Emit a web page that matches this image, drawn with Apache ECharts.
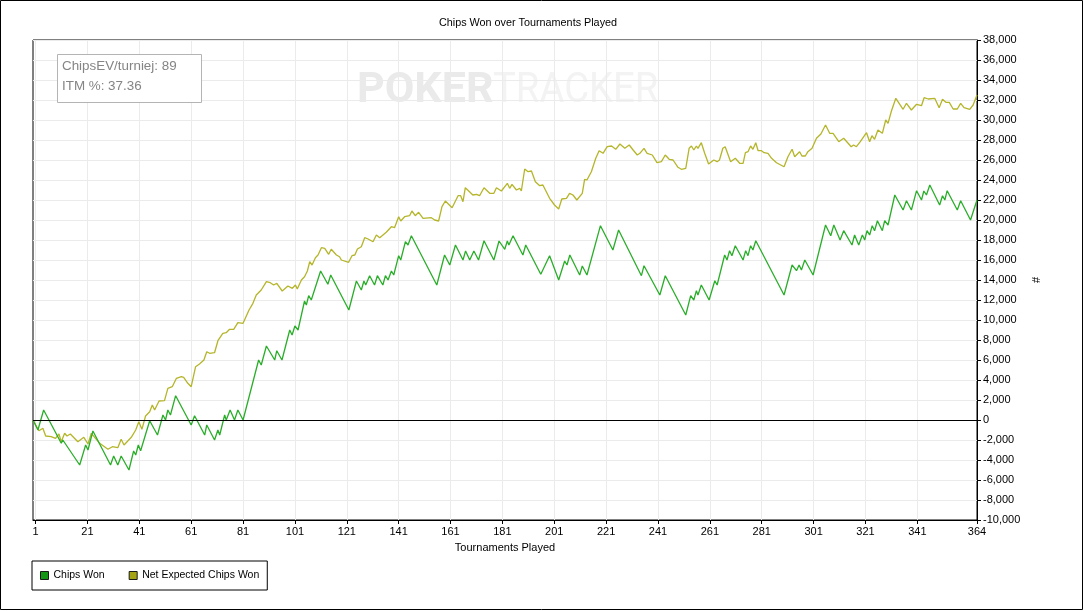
<!DOCTYPE html>
<html>
<head>
<meta charset="utf-8">
<script src="https://cdn.jsdelivr.net/npm/echarts@6/dist/echarts.min.js"></script>
<style>
html,body{margin:0;padding:0;background:#fff;}
#chart{width:1084px;height:611px;}
</style>
</head>
<body>
<div id="chart"></div>
<script>
// Tick labels
const xTicks = [1,21,41,61,81,101,121,141,161,181,201,221,241,261,281,301,321,341,364];
const seriesNames = ['Chips Won', 'Net Expected Chips Won'];
const infoLines = ['ChipsEV/turniej: 89', 'ITM %: 37.36'];

// Chips Won: tournament number of each vertex and cumulative chips
const chipsT = [0,1.9,4.1,10.9,11.5,18,20.3,21.2,23.1,29.9,31.1,32.7,34,37,38.8,39.6,40.6,41.5,45,48,50.1,51.1,52,53,55,61,62.3,66.2,67,70,71.3,72,73.9,74.5,76,77.7,79,81,87,88,90,93.2,94,96,99,99.9,101,102.2,104.7,105.4,106.3,107.3,110.9,113.7,114.8,121.8,124.7,126.6,127.6,128.3,129.8,131.7,132.8,134.9,135.9,136.9,138.2,139.1,141,141.8,143.6,144.6,145.9,155.7,158.7,160.7,162.9,165.8,166.8,168.4,170,171.8,173.9,177.7,179.7,181.9,182.9,183.5,185.1,188.9,190,195.8,199.2,202.7,205,205.9,207,210.8,211.8,213.6,218.8,223.6,225.8,234.6,235.6,241.7,243.8,251.7,253.6,254.8,255.8,256.4,257.7,260.7,262.9,263.8,266.7,267.6,268.6,269.5,270.8,273.8,274.8,275.7,276.7,277.6,278.7,289.6,292.7,294.4,295.4,296.3,297.6,300.8,305.6,307.6,308.8,311.2,312.6,315.8,316.8,318.4,319.8,320.7,321.6,322.6,323.6,324.5,325.6,327.5,328.4,329.7,332.3,335.5,336.8,338.7,340.7,342.6,343.5,344.5,345.8,349.6,350.7,351.6,352.5,356.4,357.7,361.5,364];
const chipsV = [0,-1000,1000,-2330,-2000,-4500,-2500,-3000,-1100,-4500,-3600,-4500,-3600,-5000,-3100,-3500,-2500,-3070,-70,-1500,500,0,1000,500,2430,-500,430,-1500,-500,-2000,-1000,-1500,500,0,1000,0,1000,0,6000,5500,7400,6000,6930,6000,9000,8500,9400,9000,11900,11500,12430,12000,14900,13570,14500,11000,13900,13000,13900,13500,14430,13500,14430,13500,14430,14000,14900,14500,16430,16000,17830,17500,18430,13500,16500,15500,17500,16000,16900,16000,16900,16000,17930,16000,17900,17070,17900,17500,18430,16500,17500,14570,16430,14000,15900,15500,16500,14500,15400,14500,19430,17000,19000,14430,15430,12500,14430,10500,12430,12000,12930,12500,13500,12000,13930,13500,16500,16000,16930,16430,17430,16000,16930,16430,17430,17000,17930,12500,15500,14930,15500,15000,16000,14500,19500,18430,19500,18000,18930,17500,18500,17500,18500,18000,18930,18500,19430,18930,19930,18930,19930,19500,22500,21000,21930,21000,22930,22000,22900,22500,23500,21500,22430,22000,22930,21000,21930,20000,22000];

// Net Expected Chips Won
const evT = [0,2.3,3.8,4.9,7,8.7,10,10.9,12.2,13.1,14.4,17.3,19.6,21.2,22.5,25.7,28.9,30.6,32.7,34,35.1,37.9,39.6,40.8,42,43.4,45,46,46.9,48.6,50.7,52,53.7,55.3,57.2,58.1,59.7,61,62.7,64.2,65.9,67,68.1,70,71.3,73.2,74.5,75.8,77.4,79,81,83.3,84.8,86.1,88,90,91.5,92.8,94,96.1,98.3,100,101.2,101.9,103.5,104.7,105.8,106.7,107.6,108.9,109.9,111.2,112.5,114,115,117,118.2,118.9,121.7,123,124.1,125.1,126.6,127.9,129.2,131.1,132.4,133.7,136.2,138.2,139.4,141,141.8,143.3,145.2,146.1,147.4,148.7,150.4,153.6,154.9,156.4,157.7,159,161.6,163.9,164.9,165.8,166.7,169.6,171,172.2,173.9,176.1,177.7,178.7,180.6,182.9,183.8,184.7,186.4,187.7,188.3,189.6,190.9,192.2,193.7,195.4,196.6,199.2,201.1,202.7,203.9,205.7,206.9,208.2,209.7,211.8,212.7,213.6,215.3,217,218.3,219.8,221.4,223.1,224.7,226.3,228.2,229.9,231.4,233,234,234.6,235.6,236.8,238.8,240.6,242.3,243.8,245.3,246.8,248.7,250,251.7,253,253.9,254.8,255.8,256.4,257.7,259,260.5,262.5,263.8,264.7,266,266.9,269,270.8,272.5,273.8,274.7,275.7,276.7,277.6,278.7,279.6,280.9,281.9,283.4,284.8,286.7,289.6,291.1,292.7,293.7,295.6,296.5,297.8,298.8,300.4,302.1,303.8,305.6,307.2,308.5,310.7,312.6,315.5,316.4,317.5,319,321.4,322.6,323.5,324.5,325.8,327.5,328.8,329.7,331,332.7,335.5,336.8,338.7,340.7,342.6,343.6,345.2,347.7,349.4,350.7,352,353.3,354.8,356.4,357.7,359,361.2,362.5,364];
const evV = [0,-1070,-830,-1600,-1670,-1830,-1400,-2170,-1330,-1600,-1400,-2170,-1730,-2400,-1330,-2330,-2930,-2670,-2770,-1930,-2500,-1730,-1000,-170,-930,400,830,1500,1000,1900,1930,3170,3330,4170,4330,4270,3670,3330,5330,5600,6000,6830,6670,6730,7930,8670,8730,9070,9070,9730,9670,11000,11670,12500,13000,13830,13730,13500,13670,12900,13400,13170,13500,13100,14000,14330,14900,15830,15500,16230,16500,17230,17170,16570,17070,16500,16330,16000,15770,16430,16500,17100,17330,18230,18100,17830,18500,18230,18770,19330,19230,20330,19900,20330,20430,20900,20430,20770,20170,20230,20000,19900,21330,21900,21230,22430,22430,21830,23230,22500,22570,22430,23230,22670,22670,23230,22900,23670,23170,23570,23000,23170,22900,25100,24830,24900,23830,23430,23500,22170,21500,21100,22100,22170,22670,22500,22000,22670,24070,24000,24830,26170,26930,26670,27330,27400,27070,27600,27170,27500,27000,26500,26670,26600,27170,26670,26500,25730,25830,26500,26070,26000,25270,25070,25170,27170,27400,27000,27400,27170,27730,26670,25600,26000,25830,26000,27170,27330,25830,26170,25670,25670,26730,26830,27400,27070,27730,26930,26930,26730,26670,26170,25730,25330,26330,27070,26330,26830,26400,26400,26830,27170,28170,28600,29500,28670,28670,27830,28170,27330,27500,27330,27830,28730,27830,28430,28070,29000,28670,30000,29670,30900,32170,31070,31670,31000,31570,31430,32230,32100,32170,31230,32070,31770,31770,31100,31100,31670,31230,31070,31500,32500];

const chipsData = chipsT.map((t, i) => [t, chipsV[i]]);
const evData = evT.map((t, i) => [t, evV[i]]);

const FONT = 'Liberation Sans, Arial, sans-serif';
const chart = echarts.init(document.getElementById('chart'), null, {renderer: 'canvas'});
chart.setOption({
  animation: false,
  backgroundColor: '#ffffff',
  textStyle: {fontFamily: FONT},
  title: {
    text: 'Chips Won over Tournaments Played',
    left: 434, top: 13,
    textStyle: {fontSize: 10.8, fontWeight: 'normal', color: '#000', fontFamily: FONT}
  },
  grid: {
    left: 33, top: 40, right: 107, bottom: 91,
    show: true, borderColor: '#000', borderWidth: 1, backgroundColor: 'transparent'
  },
  legend: {
    left: 32, top: 561,
    orient: 'horizontal',
    padding: [9, 8, 9, 8],
    itemGap: 24,
    itemWidth: 8, itemHeight: 8,
    borderColor: '#000', borderWidth: 1,
    backgroundColor: '#fff',
    textStyle: {fontSize: 10.5, color: '#000', fontFamily: FONT},
    data: [
      {name: seriesNames[0], icon: 'rect', itemStyle: {color: '#139613', borderColor: '#1a1a1a', borderWidth: 1}},
      {name: seriesNames[1], icon: 'rect', itemStyle: {color: '#a3a314', borderColor: '#1a1a1a', borderWidth: 1}}
    ]
  },
  xAxis: {
    type: 'value',
    min: 0, max: 364,
    name: 'Tournaments Played',
    nameLocation: 'middle',
    nameGap: 22,
    nameTextStyle: {fontSize: 11, color: '#000', fontFamily: FONT},
    axisLine: {show: true, onZero: false, lineStyle: {color: '#000', width: 1}},
    axisTick: {show: true, length: 4, lineStyle: {color: '#000'}, customValues: xTicks},
    axisLabel: {customValues: xTicks, fontSize: 11, color: '#000', margin: 6, fontFamily: FONT},
    splitLine: {show: true, lineStyle: {color: '#ebebeb', width: 1}}
  },
  yAxis: {
    type: 'value',
    position: 'right',
    min: -10000, max: 38000, interval: 2000,
    name: '#',
    nameLocation: 'middle',
    nameGap: 53,
    nameRotate: 90,
    nameTextStyle: {fontSize: 11, color: '#000', fontFamily: FONT},
    axisLine: {show: true, onZero: false, lineStyle: {color: '#000', width: 1}},
    axisTick: {show: true, length: 4, lineStyle: {color: '#000'}},
    axisLabel: {
      fontSize: 11, color: '#000', margin: 6, fontFamily: FONT,
      formatter: v => v.toLocaleString('en-US')
    },
    splitLine: {show: true, lineStyle: {color: '#ebebeb', width: 1}}
  },
  graphic: [
    {type: 'rect', silent: true, z: 100,
     shape: {x: 0.5, y: 0.5, width: 1082, height: 609},
     style: {fill: 'none', stroke: '#000', lineWidth: 1}},
    {type: 'text', silent: true, z: -10, left: 357, top: 70,
     style: {text: 'POKER', fill: '#eaeaea', font: 'bold 43px Roboto, sans-serif'}},
    {type: 'text', silent: true, z: -10, left: 493, top: 70, scaleX: 0.89,
     style: {text: 'TRACKER', fill: '#f3f3f3', font: '43px Roboto, sans-serif'}},
    {type: 'rect', silent: true, z: 50,
     shape: {x: 57.5, y: 54.5, width: 144, height: 48},
     style: {fill: '#fff', stroke: '#b4b4b4', lineWidth: 1}},
    {type: 'text', silent: true, z: 51, left: 62, top: 60,
     style: {text: infoLines[0], fill: '#858585', font: '13.4px ' + FONT}},
    {type: 'text', silent: true, z: 51, left: 62, top: 80,
     style: {text: infoLines[1], fill: '#858585', font: '13.4px ' + FONT}}
  ],
  series: [
    {
      name: seriesNames[0], type: 'line', data: chipsData,
      showSymbol: false, symbol: 'none', z: 3,
      color: '#2aae2a',
      lineStyle: {color: '#2aae2a', width: 1.3},
      markLine: {
        silent: true, symbol: ['none', 'none'], label: {show: false},
        lineStyle: {color: '#000', width: 1, type: 'solid'},
        data: [{yAxis: 0}]
      }
    },
    {
      name: seriesNames[1], type: 'line', data: evData,
      showSymbol: false, symbol: 'none', z: 2,
      color: '#b5b52a',
      lineStyle: {color: '#b5b52a', width: 1.3}
    }
  ]
});
</script>
</body>
</html>
